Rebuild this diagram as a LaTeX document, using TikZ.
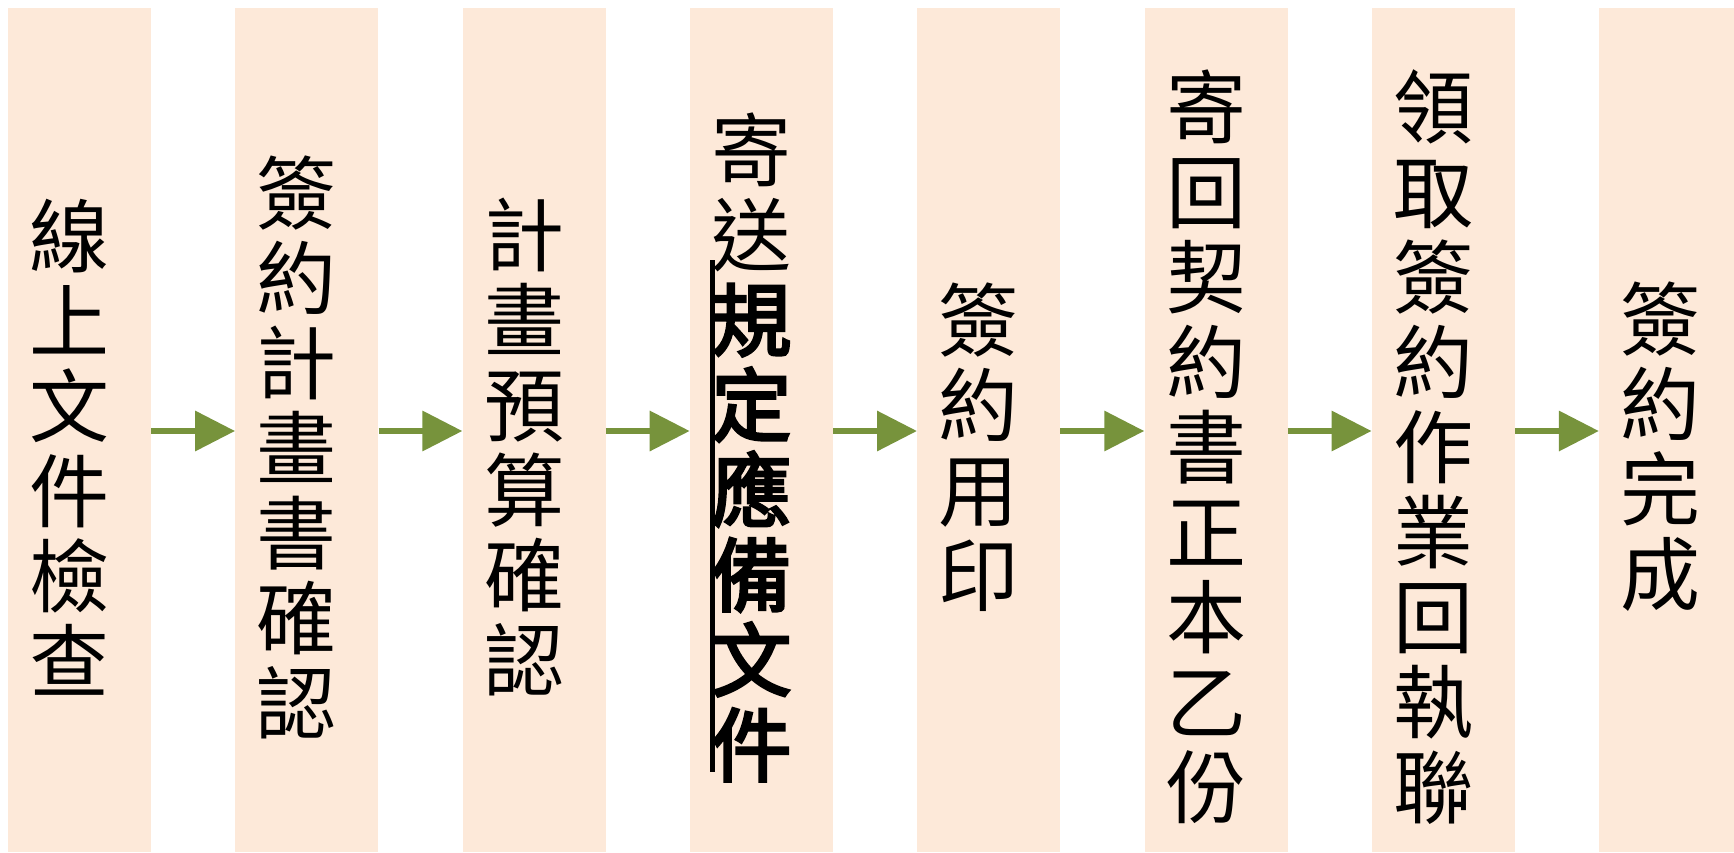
\documentclass[tikz,border=0pt]{standalone}
\usepackage{fontspec}
\newfontfamily\cjk{Noto Sans CJK TC}
\newfontfamily\cjkbold{Noto Sans CJK TC}[FakeBold=3.5]
\usetikzlibrary{arrows.meta}
\definecolor{boxfill}{HTML}{FDE9D9}
\definecolor{arrgreen}{HTML}{77933C}
\tikzset{
  stepbox/.style={rectangle, fill=boxfill, draw=none, minimum width=143pt, minimum height=844pt, inner sep=0pt},
  txt/.style={inner sep=0pt, align=center, font=\cjk\fontsize{80pt}{85pt}\selectfont},
  arr/.style={draw=arrgreen, line width=6.5pt, -{Triangle[length=40pt,width=39pt]}},
  uline/.style={line width=5pt, draw=black}
}
\begin{document}
\begin{tikzpicture}[x=1pt,y=-1pt]
\useasboundingbox (0,0) rectangle (1734,852);
\foreach \i in {1,...,8}{
  \node[stepbox] (b\i) at ({8+71.5+227.3*(\i-1)},430) {};
}
\node[txt] (t1) at ([xshift=-10pt,yshift=-17pt]b1.center) {線\\上\\文\\件\\檢\\查};
\node[txt] (t2) at ([xshift=-10pt,yshift=-17pt]b2.center) {簽\\約\\計\\畫\\書\\確\\認};
\node[txt] (t3) at ([xshift=-10pt,yshift=-17pt]b3.center) {計\\畫\\預\\算\\確\\認};
\node[txt] (t4) at ([xshift=-10pt,yshift=-17pt]b4.center) {寄\\送\\{\cjkbold 規}\\{\cjkbold 定}\\{\cjkbold 應}\\{\cjkbold 備}\\{\cjkbold 文}\\{\cjkbold 件}};
\node[txt] (t5) at ([xshift=-10pt,yshift=-17pt]b5.center) {簽\\約\\用\\印};
\node[txt] (t6) at ([xshift=-10pt,yshift=-17pt]b6.center) {寄\\回\\契\\約\\書\\正\\本\\乙\\份};
\node[txt] (t7) at ([xshift=-10pt,yshift=-17pt]b7.center) {領\\取\\簽\\約\\作\\業\\回\\執\\聯};
\node[txt] (t8) at ([xshift=-10pt,yshift=-17pt]b8.center) {簽\\約\\完\\成};
\coordinate (u1) at (712,260);
\coordinate (u2) at (712,772);
\draw[uline] (u1) -- (u2);
\foreach \i [evaluate=\i as \j using int(\i+1)] in {1,...,7}{
  \draw[arr] ([yshift=-1pt]b\i.east) -- ([yshift=-1pt]b\j.west);
}
\end{tikzpicture}
\end{document}
